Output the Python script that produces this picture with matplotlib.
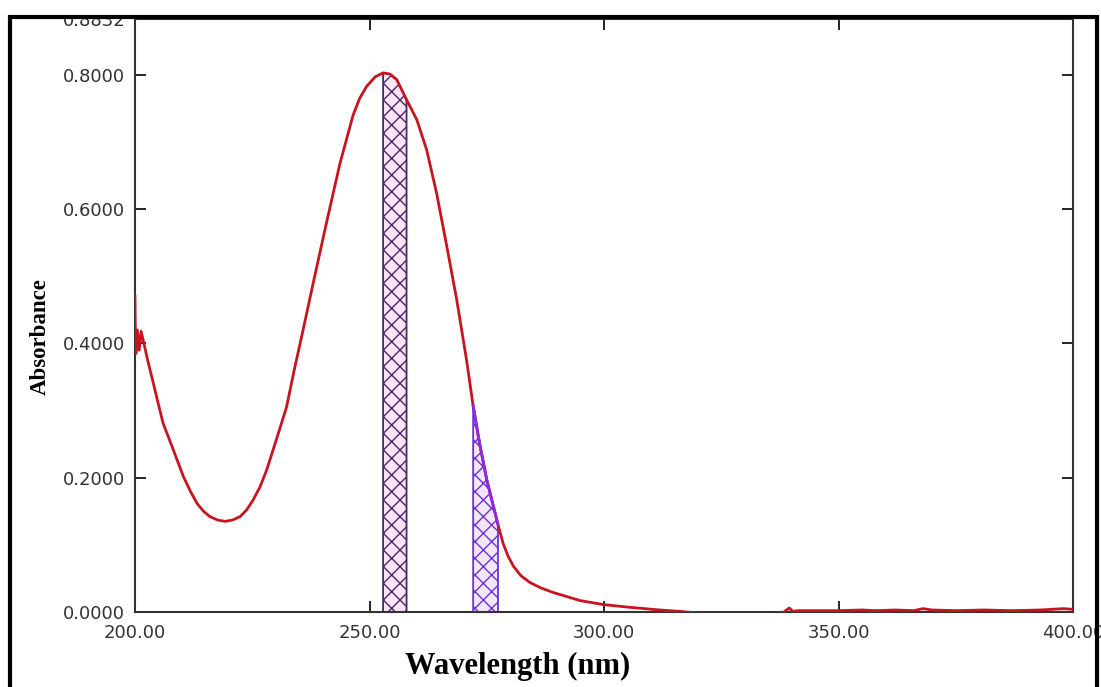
import matplotlib.pyplot as plt
from matplotlib.patches import Rectangle
import numpy as np

# Spectrum
wavelength = [200.0, 200.05, 200.2, 200.5, 200.9, 201.3, 201.8, 202.8, 203.9, 205.0,
              206.0, 208.2, 210.3, 211.8, 213.2, 214.6, 216.0, 217.6, 219.2, 220.8,
              222.4, 223.8, 225.2, 226.7, 228.1, 230.2, 232.3, 234.0, 235.9, 238.0,
              240.9, 243.7, 246.5, 247.9, 249.4, 251.2, 252.9, 254.4, 255.8, 257.9,
              260.1, 262.2, 264.3, 266.5, 268.6, 270.7, 272.1, 273.5, 275.0, 277.4,
              278.5, 279.5, 280.7, 282.3, 284.2, 286.5, 289.2, 294.9, 299.9, 305.5,
              311.9, 316.0, 321.0, 330.0, 338.0, 339.5, 340.3, 341.5, 350.0, 355.0,
              358.0, 362.0, 366.0, 368.0, 370.0, 375.0, 381.0, 387.0, 393.0, 398.0,
              400.0]
absorbance = [0.470, 0.430, 0.385, 0.420, 0.390, 0.418, 0.403, 0.372, 0.341, 0.309,
              0.281, 0.241, 0.202, 0.180, 0.162, 0.150, 0.142, 0.137, 0.135, 0.137,
              0.142, 0.152, 0.167, 0.187, 0.212, 0.258, 0.305, 0.362, 0.422, 0.490,
              0.582, 0.668, 0.740, 0.765, 0.783, 0.797, 0.803, 0.801, 0.793, 0.763,
              0.733, 0.688, 0.624, 0.544, 0.465, 0.375, 0.307, 0.250, 0.197, 0.130,
              0.102, 0.084, 0.068, 0.054, 0.044, 0.036, 0.029, 0.017, 0.011, 0.007,
              0.003, 0.001, -0.002, -0.002, -0.002, 0.006, 0.001, 0.002, 0.002, 0.003,
              0.002, 0.003, 0.002, 0.005, 0.003, 0.002, 0.003, 0.002, 0.003, 0.005,
              0.004]

band1 = (252.9, 257.9)
band2 = (272.1, 277.4)

x_ticks = [200, 250, 300, 350, 400]
x_labels = ["200.00", "250.00", "300.00", "350.00", "400.00"]
y_ticks = [0.0, 0.2, 0.4, 0.6, 0.8, 0.8832]
y_labels = ["0.0000", "0.2000", "0.4000", "0.6000", "0.8000", "0.8832"]

wl = np.array(wavelength)
ab = np.array(absorbance)

fig = plt.figure(figsize=(11.01, 6.87), dpi=100)
ax = fig.add_axes([135 / 1101, 1 - 612 / 687, (1073 - 135) / 1101, (612 - 19) / 687])

red = "#c81420"
ax.plot(wl, ab, color=red, lw=2.0, zorder=3, solid_joinstyle="round")

m1 = (wl >= band1[0]) & (wl <= band1[1])
ax.fill_between(wl[m1], 0, ab[m1], facecolor="#fbe4f6", edgecolor="#4a2868",
                hatch="xx", lw=1.3, zorder=2)
m2 = (wl >= band2[0]) & (wl <= band2[1])
ax.fill_between(wl[m2], 0, ab[m2], facecolor="#f3e6fb", edgecolor="#6a34d8",
                hatch="xx", lw=1.3, zorder=2)
ax.plot(wl[m2], ab[m2], color="#8a2be2", lw=2.0, zorder=4)

ax.set_xlim(200, 400)
ax.set_ylim(0, 0.8832)
ax.set_xticks(x_ticks)
ax.set_xticklabels(x_labels)
ax.set_yticks(y_ticks)
ax.set_yticklabels(y_labels)
ax.tick_params(direction="in", length=8, width=1.2, labelsize=13,
               labelcolor="#333333", top=True, right=True)
ax.tick_params(axis="x", pad=9)
ax.tick_params(axis="y", pad=7)
for lab in ax.get_xticklabels() + ax.get_yticklabels():
    lab.set_family("DejaVu Sans")
for s in ax.spines.values():
    s.set_linewidth(1.5)
    s.set_color("#333333")

fig.text(40 / 1101, 1 - 337 / 687, "Absorbance", rotation=90, ha="center", va="center",
         family="Liberation Serif", fontweight="bold", fontsize=16.5)
fig.text(518 / 1101, 1 - 666 / 687, "Wavelength (nm)", ha="center", va="center",
         family="Liberation Serif", fontweight="bold", fontsize=22)

# white margin and black frame around the picture
fig.add_artist(Rectangle((0, 1 - 15 / 687), 1, 15 / 687, transform=fig.transFigure,
                         facecolor="white", edgecolor="none", zorder=10))
fig.add_artist(Rectangle((10 / 1101, -0.05), (1097 - 10) / 1101, 1.05 - 16.5 / 687,
                         transform=fig.transFigure, fill=False, edgecolor="black",
                         lw=3, zorder=11))

fig.savefig("out.png", dpi=100)
